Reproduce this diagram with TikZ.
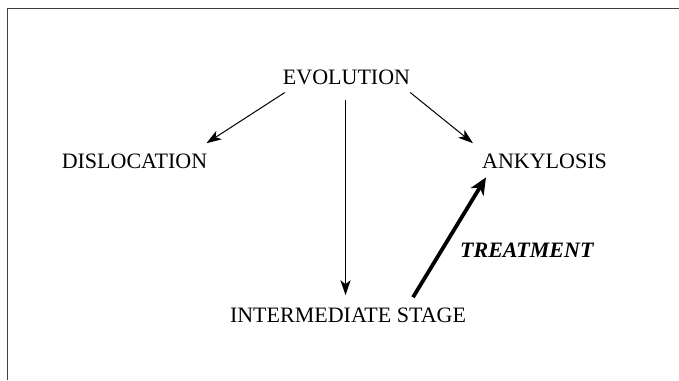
\documentclass[tikz,border=0pt]{standalone}
\usepackage{fontspec}
\setmainfont{Liberation Serif}
\usetikzlibrary{arrows.meta,calc}
\begin{document}
\begin{tikzpicture}[x=1pt,y=1pt,
  lbl/.style={inner sep=0pt,anchor=base,font=\fontsize{22}{26}\selectfont},
  thin arrow/.style={line width=1pt,-{Stealth[length=15pt,width=10pt,inset=4pt]}},
  thick arrow/.style={line width=3.8pt,-{Stealth[length=17pt,width=15pt,inset=5pt]}},
  frameline/.style={draw=black!75,line width=1pt}]
\useasboundingbox (0,0) rectangle (679,380);
\draw[frameline] (7,0) -- (7,371) -- (679,371);
\node[lbl] (evo) at (346.5,295) {EVOLUTION};
\node[lbl] (dis) at (134.5,211) {DISLOCATION};
\node[lbl] (ank) at (544.5,211) {ANKYLOSIS};
\node[lbl] (int) at (348,58) {INTERMEDIATE STAGE};
\node[lbl,anchor=base west,font=\fontsize{22}{26}\selectfont\bfseries\itshape] (trt) at (460,122) {TREATMENT};
\draw[thin arrow] ([xshift=2pt,yshift=-7pt]evo.south west) -- ([xshift=-1pt,yshift=11pt]dis.north east);
\draw[thin arrow] ([yshift=-7pt]evo.south east) -- ([xshift=-9pt,yshift=11pt]ank.north west);
\draw[thin arrow] ([xshift=-1pt,yshift=-14pt]evo.south) -- ([xshift=-1pt,yshift=12pt]evo.south |- int.north);
\draw[thick arrow] ([xshift=65pt,yshift=10pt]int.north) -- ([xshift=4pt,yshift=-8pt]ank.south west);
\end{tikzpicture}
\end{document}
